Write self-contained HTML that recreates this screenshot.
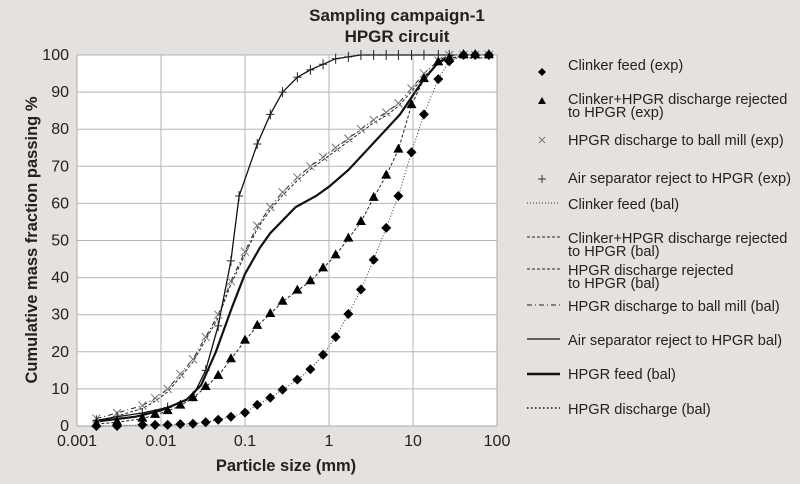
<!DOCTYPE html>
<html><head><meta charset="utf-8">
<style>
html,body{margin:0;padding:0;background:#e5e1de;}
svg{display:block;font-family:"Liberation Sans",sans-serif;}
</style></head>
<body>
<svg id="s" width="800" height="484" xmlns="http://www.w3.org/2000/svg">
<rect width="800" height="484" fill="#e5e1de"/>
<rect x="77" y="55" width="420" height="371" fill="#fff" stroke="#aaa" stroke-width="1"/>
<g id="grid" stroke="#b5b5b5" stroke-width="1"></g>
<g id="series"></g>
<text x="397" y="21" font-size="17" font-weight="bold" text-anchor="middle" fill="#222">Sampling campaign-1</text>
<text x="397" y="42" font-size="17" font-weight="bold" text-anchor="middle" fill="#222">HPGR circuit</text>
<g id="yt" font-size="16" fill="#222" text-anchor="end"></g>
<g id="xt" font-size="16" fill="#222" text-anchor="middle"></g>
<text x="286" y="471" font-size="16.5" font-weight="bold" text-anchor="middle" fill="#222">Particle size (mm)</text>
<text transform="translate(37,240) rotate(-90)" font-size="16.5" font-weight="bold" text-anchor="middle" fill="#222">Cumulative mass fraction passing %</text>
<g font-size="14.6" fill="#222">
<path d="M542 68 l4 4 -4 4 -4 -4z" fill="#000"/>
<text x="568" y="70">Clinker feed (exp)</text>
<path d="M542 97 l4 7 -8 0z" fill="#000"/>
<text x="568" y="104">Clinker+HPGR discharge rejected</text>
<text x="568" y="117">to HPGR (exp)</text>
<path d="M539 137 l6 6 M545 137 l-6 6" stroke="#777" stroke-width="1"/>
<text x="568" y="145">HPGR discharge to ball mill (exp)</text>
<path d="M542 175 v8 M538 179 h8" stroke="#333" stroke-width="1"/>
<text x="568" y="183">Air separator reject to HPGR (exp)</text>
<line x1="527" y1="203" x2="560" y2="203" stroke="#333" stroke-dasharray="1,2"/>
<text x="568" y="209">Clinker feed (bal)</text>
<line x1="527" y1="237" x2="560" y2="237" stroke="#222" stroke-dasharray="3,2"/>
<text x="568" y="243">Clinker+HPGR discharge rejected</text>
<text x="568" y="256">to HPGR (bal)</text>
<line x1="527" y1="269" x2="560" y2="269" stroke="#222" stroke-dasharray="3,2"/>
<text x="568" y="275">HPGR discharge rejected</text>
<text x="568" y="288">to HPGR (bal)</text>
<line x1="527" y1="305" x2="560" y2="305" stroke="#222" stroke-dasharray="5,3,1,3"/>
<text x="568" y="311">HPGR discharge to ball mill (bal)</text>
<line x1="527" y1="339" x2="560" y2="339" stroke="#111" stroke-width="1.3"/>
<text x="568" y="345">Air separator reject to HPGR bal)</text>
<line x1="527" y1="374" x2="560" y2="374" stroke="#111" stroke-width="2.4"/>
<text x="568" y="379">HPGR feed (bal)</text>
<line x1="527" y1="408" x2="560" y2="408" stroke="#111" stroke-width="1.5" stroke-dasharray="1.5,2.5"/>
<text x="568" y="414">HPGR discharge (bal)</text>
</g>
</svg>
<script>
const NS="http://www.w3.org/2000/svg";
function X(v){return 77+84*(Math.log10(v)+3);}
function Y(p){return 426-3.71*p;}
function el(t,a,parent){const e=document.createElementNS(NS,t);for(const k in a)e.setAttribute(k,a[k]);(parent||document.getElementById('series')).appendChild(e);return e;}
const grid=document.getElementById('grid');
for(let i=1;i<=10;i++)el('line',{x1:77,x2:497,y1:Y(i*10),y2:Y(i*10)},grid);
for(let d=1;d<5;d++)el('line',{x1:77+84*d,x2:77+84*d,y1:55,y2:426},grid);
const yt=document.getElementById('yt');
for(let i=0;i<=10;i++){const t=el('text',{x:69,y:Y(i*10)+5},yt);t.textContent=i*10;}
const xt=document.getElementById('xt');
['0.001','0.01','0.1','1','10','100'].forEach((s,i)=>{const t=el('text',{x:77+84*i,y:446},xt);t.textContent=s;});
function path(d){return d.map((p,i)=>(i?'L':'M')+X(p[0]).toFixed(1)+' '+Y(p[1]).toFixed(1)).join(' ');}
const sizes=[0.0017,0.003,0.006,0.0085,0.012,0.017,0.024,0.034,0.048,0.068,0.1,0.14,0.2,0.28,0.42,0.6,0.85,1.2,1.7,2.4,3.4,4.8,6.7,9.6,13.5,20,27,40,55,80];
const cf=[0,0,0.3,0.3,0.3,0.5,0.6,1,1.7,2.5,3.6,5.7,7.6,9.8,12.5,15.3,19.2,24,30.2,36.8,44.8,53.4,62,73.8,84,93.5,98.3,100,100,100];
const tr=[0.5,1,2,3,4,5.5,7.5,10.5,13.5,18,23,27,30.2,33.5,36.5,39,42.5,46,50.5,55,61.5,67.5,74.5,86.5,93.5,98,99,100,100,100];
const bm=[2,3.5,5.5,7.5,10,14,18,24,30,39,47,54,59,63,67,70,72.5,75,77.5,80,82.5,84.5,87,91,95,98.5,100,100,100,100];
const as=[[0.0017,1.5],[0.003,2.5],[0.006,3.5],[0.012,5],[0.024,8],[0.034,15],[0.048,27],[0.068,44.5],[0.085,62],[0.14,76],[0.2,84],[0.28,90],[0.42,94],[0.6,96],[0.85,97.5],[1.2,99],[1.7,99.5],[2.4,100],[3.4,100],[4.8,100],[6.7,100],[9.6,100],[13.5,100],[20,100],[27,100]];
const hf=[[0.0017,1.2],[0.005,2.5],[0.01,4.2],[0.02,7],[0.03,11],[0.045,20],[0.07,32],[0.1,41],[0.15,48],[0.2,52],[0.4,59],[0.7,62],[1,64.5],[1.7,69],[3,75],[7,84],[13,93],[20,98],[30,100]];
const Z=(a)=>sizes.map((s,i)=>[s,a[i]]);
el('path',{d:path(Z(cf)),fill:'none',stroke:'#333','stroke-width':1,'stroke-dasharray':'1,2'});
el('path',{d:path(Z(tr)),fill:'none',stroke:'#222','stroke-width':1,'stroke-dasharray':'3,2'});
el('path',{d:path(Z(bm)),fill:'none',stroke:'#222','stroke-width':1,'stroke-dasharray':'5,3,1,3'});
el('path',{d:path(Z(bm.map(v=>Math.max(0,v-0.8)))),fill:'none',stroke:'#222','stroke-width':1,'stroke-dasharray':'3,2'});
el('path',{d:path(as),fill:'none',stroke:'#111','stroke-width':1.3});
el('path',{d:path(hf),fill:'none',stroke:'#111','stroke-width':2.2});
sizes.forEach((s,i)=>{const x=X(s),y=Y(bm[i]);el('path',{d:`M${x-4} ${y-4}l8 8M${x+4} ${y-4}l-8 8`,stroke:'#777','stroke-width':1});});
as.forEach(p=>{const x=X(p[0]),y=Y(p[1]);el('path',{d:`M${x} ${y-5}v10M${x-4} ${y}h8`,stroke:'#222','stroke-width':1});});
sizes.forEach((s,i)=>{const x=X(s),y=Y(tr[i]);el('path',{d:`M${x} ${y-6}l5 9h-10z`,fill:'#000'});});
sizes.forEach((s,i)=>{const x=X(s),y=Y(cf[i]);el('path',{d:`M${x} ${y-5}l5 5-5 5-5-5z`,fill:'#000'});});
</script>
</body></html>
